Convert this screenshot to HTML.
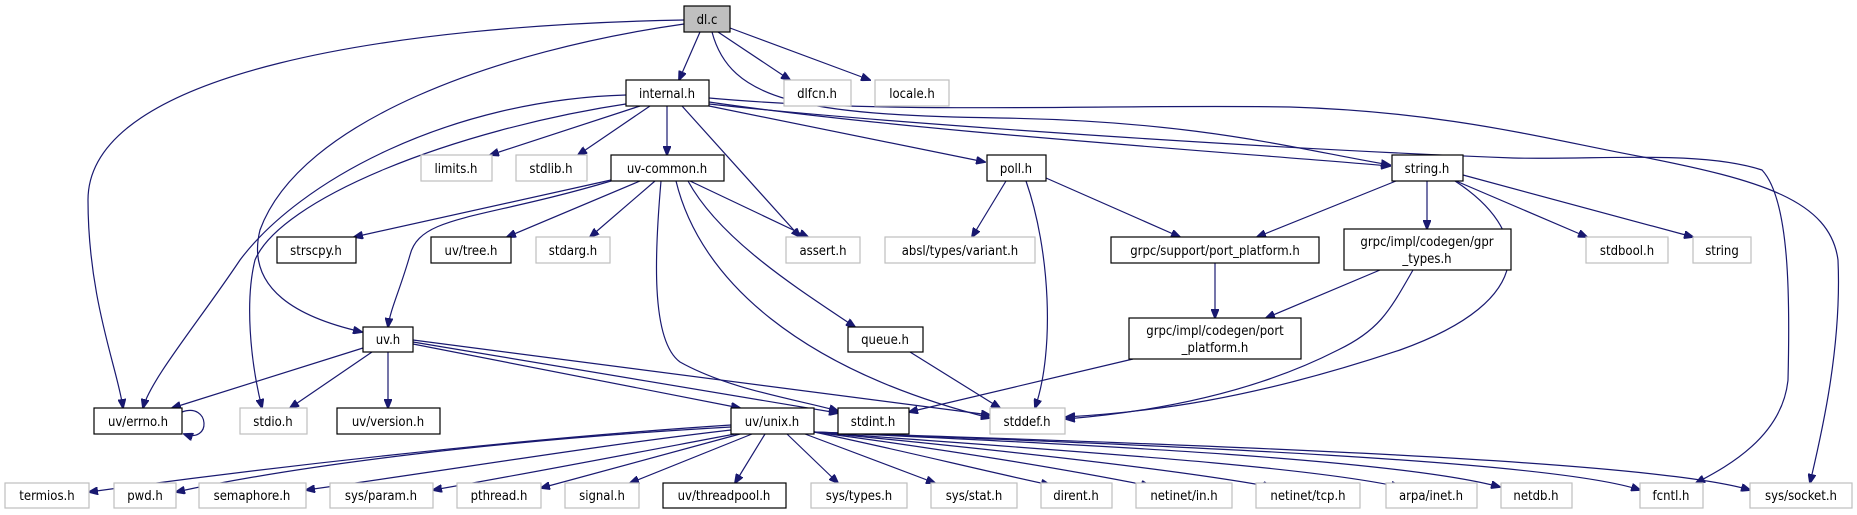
<!DOCTYPE html>
<html><head><meta charset="utf-8"><style>
html,body{margin:0;padding:0;background:#fff;}
svg{display:block}
text{font-family:"DejaVu Sans Condensed","DejaVu Sans","Liberation Sans",sans-serif;font-size:13px;fill:#000;text-anchor:middle;}
.e{fill:none;stroke:#191970;stroke-width:1.2}
.b{fill:#fff;stroke:#000;stroke-width:1.2}
.g{fill:#fff;stroke:#bfbfbf;stroke-width:1.2}
</style></head><body>
<svg width="1857" height="515" viewBox="0 0 1857 515" xmlns="http://www.w3.org/2000/svg">
<defs><marker id="a" markerWidth="10" markerHeight="8" refX="9" refY="4" orient="auto" markerUnits="userSpaceOnUse"><path d="M0,0 L10,4 L0,8 Z" fill="#191970" stroke="#191970"/></marker></defs>
<g marker-end="url(#a)">
<!-- dl.c -->
<path class="e" d="M700,32 L679,80"/>
<path class="e" d="M718,32 L790,80"/>
<path class="e" d="M730,28 L870,80"/>
<path class="e" d="M684,20 C400,25 88,70 88,200 C88,300 118,370 123,408"/>
<path class="e" d="M684,24 C500,50 300,120 260,230 C245,290 300,318 362,332"/>
<path class="e" d="M712,32 C730,100 800,115 1000,118 C1200,121 1300,150 1390,165"/>
<!-- internal.h -->
<path class="e" d="M709,102 C900,130 1200,150 1390,166"/>
<path class="e" d="M709,98 C900,115 1100,104 1290,107 C1450,112 1550,140 1643,157 C1760,180 1830,200 1838,260 C1842,350 1820,440 1810,483"/>
<path class="e" d="M709,104 C900,125 1300,150 1513,158 C1600,160 1700,150 1762,170 C1790,200 1790,300 1788,380 C1782,440 1720,470 1696,483"/>
<path class="e" d="M709,106 L985,162"/>
<path class="e" d="M640,106 L490,155"/>
<path class="e" d="M650,106 L578,155"/>
<path class="e" d="M667,106 L667,155"/>
<path class="e" d="M682,106 L800,237"/>
<path class="e" d="M626,95 C450,100 300,180 240,260 C200,320 150,380 143,408"/>
<path class="e" d="M632,103 C450,130 280,200 255,260 C245,300 250,360 262,408"/>
<!-- uv-common.h -->
<path class="e" d="M611,180 L354,237"/>
<path class="e" d="M640,181 L507,237"/>
<path class="e" d="M655,181 L590,237"/>
<path class="e" d="M690,181 L808,237"/>
<path class="e" d="M611,181 C480,220 420,215 410,255 C400,290 390,310 388,327"/>
<path class="e" d="M661,181 C655,250 650,340 680,362 C730,390 800,400 838,411"/>
<path class="e" d="M676,181 C700,280 800,370 990,418"/>
<path class="e" d="M688,181 C720,240 800,290 855,327"/>
<!-- poll.h -->
<path class="e" d="M1006,181 L972,237"/>
<path class="e" d="M1046,178 L1180,237"/>
<path class="e" d="M1026,181 C1050,250 1055,350 1035,408"/>
<!-- string.h -->
<path class="e" d="M1396,181 L1257,237"/>
<path class="e" d="M1427,181 L1427,229"/>
<path class="e" d="M1456,181 L1587,237"/>
<path class="e" d="M1463,175 L1693,237"/>
<path class="e" d="M1455,181 C1530,230 1540,300 1400,350 C1250,400 1150,412 1066,417"/>
<!-- grpc -->
<path class="e" d="M1380,270 L1266,318"/>
<path class="e" d="M1413,270 C1390,310 1380,330 1338,350 C1250,395 1150,412 1066,419"/>
<path class="e" d="M1215,263 L1215,318"/>
<path class="e" d="M1133,359 L909,412"/>
<path class="e" d="M910,352 L1000,408"/>
<!-- uv.h -->
<path class="e" d="M363,348 L172,408"/>
<path class="e" d="M372,352 L290,408"/>
<path class="e" d="M388,352 L388,408"/>
<path class="e" d="M413,344 L740,408"/>
<path class="e" d="M413,342 L838,413"/>
<path class="e" d="M413,340 L990,415"/>
<path class="e" d="M182,412 C210,402 212,444 184,434"/>
<!-- uv/unix.h -->
<path class="e" d="M731,425 C500,440 250,470 89,492"/>
<path class="e" d="M731,427 C500,440 300,465 176,492"/>
<path class="e" d="M731,430 C600,445 450,470 306,490"/>
<path class="e" d="M735,434 C650,450 520,475 433,490"/>
<path class="e" d="M740,434 L541,488"/>
<path class="e" d="M752,434 L630,483"/>
<path class="e" d="M765,434 L735,483"/>
<path class="e" d="M787,434 L838,483"/>
<path class="e" d="M805,434 L935,483"/>
<path class="e" d="M814,432 C900,450 980,470 1050,485"/>
<path class="e" d="M814,432 C950,450 1070,470 1150,486"/>
<path class="e" d="M814,432 C1000,450 1180,470 1272,487"/>
<path class="e" d="M814,432 C1050,450 1300,465 1400,487"/>
<path class="e" d="M814,432 C1100,445 1400,460 1500,487"/>
<path class="e" d="M814,432 C1150,445 1550,460 1640,490"/>
<path class="e" d="M814,432 C1200,445 1650,460 1750,490"/>
</g>
<!-- nodes -->
<rect x="684" y="6" width="46" height="26" fill="#bfbfbf" stroke="#000" stroke-width="1.2"/><text x="707" y="24">dl.c</text>
<rect class="b" x="626" y="80" width="83" height="26"/><text x="667" y="98">internal.h</text>
<rect class="g" x="784" y="80" width="67" height="26"/><text x="817" y="98">dlfcn.h</text>
<rect class="g" x="875" y="80" width="74" height="26"/><text x="912" y="98">locale.h</text>
<rect class="g" x="421" y="155" width="71" height="26"/><text x="456" y="173">limits.h</text>
<rect class="g" x="516" y="155" width="71" height="26"/><text x="551" y="173">stdlib.h</text>
<rect class="b" x="611" y="155" width="113" height="26"/><text x="667" y="173">uv-common.h</text>
<rect class="b" x="987" y="155" width="59" height="26"/><text x="1016" y="173">poll.h</text>
<rect class="b" x="1392" y="155" width="71" height="26"/><text x="1427" y="173">string.h</text>
<rect class="b" x="277" y="237" width="79" height="26"/><text x="316" y="255">strscpy.h</text>
<rect class="b" x="431" y="237" width="80" height="26"/><text x="471" y="255">uv/tree.h</text>
<rect class="g" x="536" y="237" width="74" height="26"/><text x="573" y="255">stdarg.h</text>
<rect class="g" x="786" y="237" width="74" height="26"/><text x="823" y="255">assert.h</text>
<rect class="g" x="885" y="237" width="150" height="26"/><text x="960" y="255">absl/types/variant.h</text>
<rect class="b" x="1111" y="237" width="208" height="26"/><text x="1215" y="255">grpc/support/port_platform.h</text>
<rect class="b" x="1344" y="229" width="167" height="41"/><text x="1427" y="246">grpc/impl/codegen/gpr</text><text x="1427" y="263">_types.h</text>
<rect class="g" x="1586" y="237" width="82" height="26"/><text x="1627" y="255">stdbool.h</text>
<rect class="g" x="1693" y="237" width="58" height="26"/><text x="1722" y="255">string</text>
<rect class="b" x="1129" y="318" width="172" height="41"/><text x="1215" y="335">grpc/impl/codegen/port</text><text x="1215" y="352">_platform.h</text>
<rect class="b" x="363" y="327" width="50" height="25"/><text x="388" y="344">uv.h</text>
<rect class="b" x="848" y="327" width="75" height="25"/><text x="885" y="344">queue.h</text>
<rect class="b" x="94" y="408" width="88" height="26"/><text x="138" y="426">uv/errno.h</text>
<rect class="g" x="240" y="408" width="67" height="26"/><text x="273" y="426">stdio.h</text>
<rect class="b" x="337" y="408" width="103" height="26"/><text x="388" y="426">uv/version.h</text>
<rect class="b" x="731" y="408" width="83" height="26"/><text x="772" y="426">uv/unix.h</text>
<rect class="b" x="838" y="408" width="71" height="26"/><text x="873" y="426">stdint.h</text>
<rect class="g" x="990" y="408" width="75" height="26"/><text x="1027" y="426">stddef.h</text>
<rect class="g" x="5" y="483" width="84" height="25"/><text x="47" y="500">termios.h</text>
<rect class="g" x="114" y="483" width="62" height="25"/><text x="145" y="500">pwd.h</text>
<rect class="g" x="199" y="483" width="107" height="25"/><text x="252" y="500">semaphore.h</text>
<rect class="g" x="330" y="483" width="103" height="25"/><text x="381" y="500">sys/param.h</text>
<rect class="g" x="457" y="483" width="84" height="25"/><text x="499" y="500">pthread.h</text>
<rect class="g" x="565" y="483" width="74" height="25"/><text x="602" y="500">signal.h</text>
<rect class="b" x="663" y="483" width="123" height="25"/><text x="724" y="500">uv/threadpool.h</text>
<rect class="g" x="811" y="483" width="96" height="25"/><text x="859" y="500">sys/types.h</text>
<rect class="g" x="931" y="483" width="86" height="25"/><text x="974" y="500">sys/stat.h</text>
<rect class="g" x="1041" y="483" width="71" height="25"/><text x="1076" y="500">dirent.h</text>
<rect class="g" x="1136" y="483" width="96" height="25"/><text x="1184" y="500">netinet/in.h</text>
<rect class="g" x="1256" y="483" width="104" height="25"/><text x="1308" y="500">netinet/tcp.h</text>
<rect class="g" x="1386" y="483" width="91" height="25"/><text x="1431" y="500">arpa/inet.h</text>
<rect class="g" x="1501" y="483" width="71" height="25"/><text x="1536" y="500">netdb.h</text>
<rect class="g" x="1640" y="483" width="63" height="25"/><text x="1671" y="500">fcntl.h</text>
<rect class="g" x="1750" y="483" width="102" height="25"/><text x="1801" y="500">sys/socket.h</text>
</svg>
</body></html>
